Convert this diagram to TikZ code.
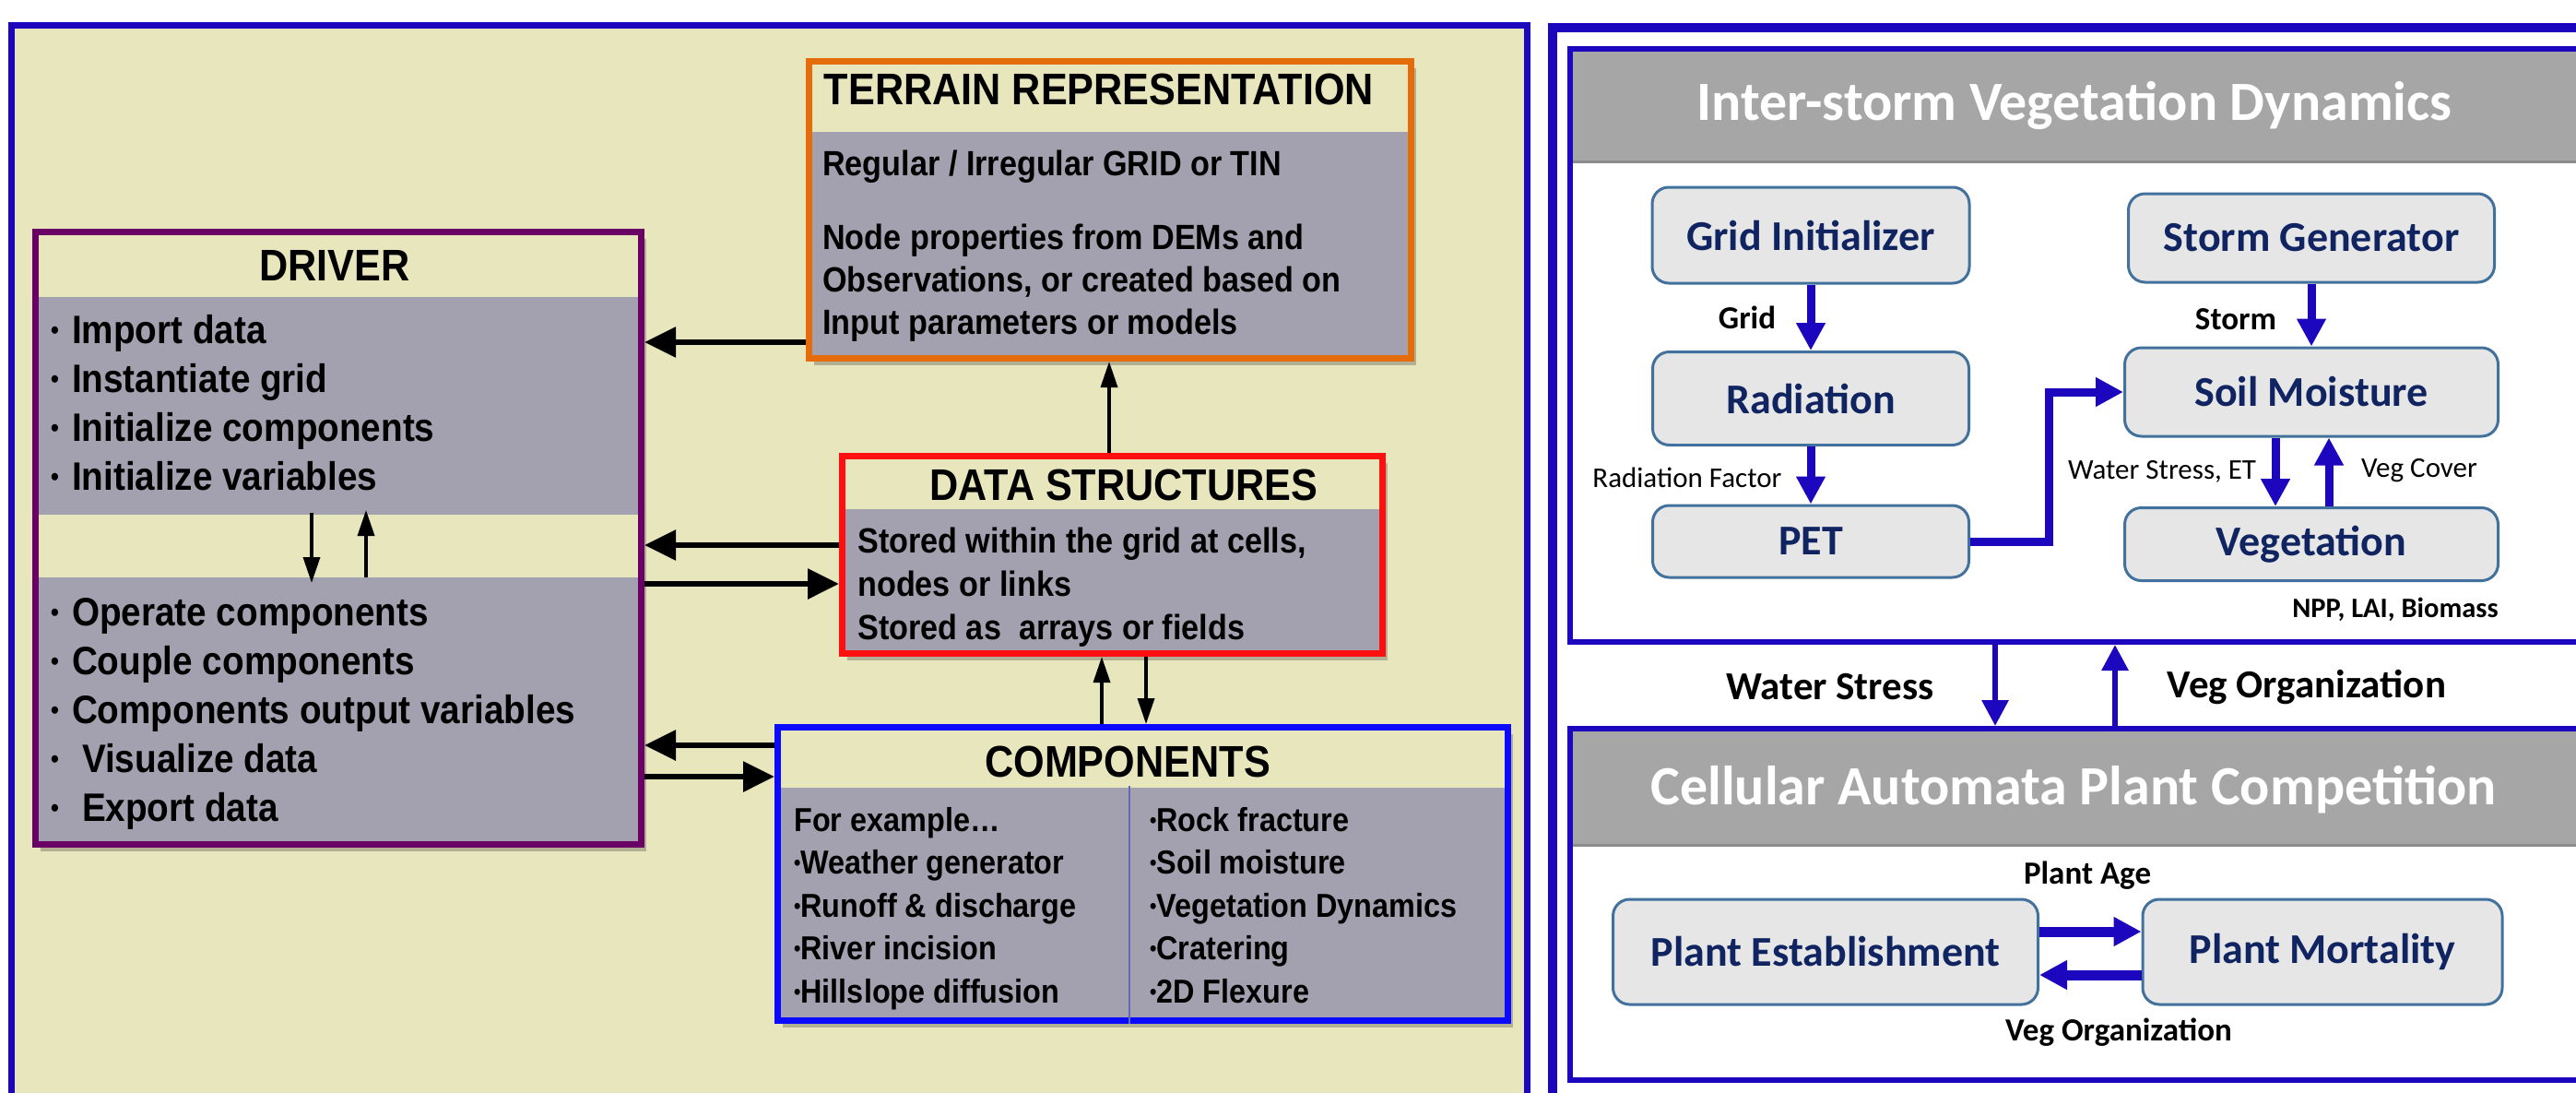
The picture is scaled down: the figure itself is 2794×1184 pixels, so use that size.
\documentclass[tikz,border=0pt]{standalone}
\usepackage{fontspec}
\newfontfamily\arialnarrow{Liberation Sans}[FakeStretch=0.9]
\newfontfamily\calibri{Carlito}
\usetikzlibrary{arrows.meta, shadows, positioning}

\definecolor{paper}{HTML}{E8E6BC}
\definecolor{slab}{HTML}{A3A1AF}
\definecolor{frameblue}{HTML}{1C06BE}
\definecolor{terraincol}{HTML}{E46C0A}
\definecolor{drivercol}{HTML}{6A0066}
\definecolor{datacol}{HTML}{FF1010}
\definecolor{compcol}{HTML}{0A0AFF}
\definecolor{procfill}{HTML}{E6E6E6}
\definecolor{procline}{HTML}{41719C}
\definecolor{proctext}{HTML}{0F2461}
\definecolor{banner}{HTML}{A6A6A6}

\newcommand{\smallbul}{\raisebox{0.1em}{\scalebox{0.65}{•}}}

\tikzset{
  modbox/.style 2 args={draw=#1, line width=7pt, fill=slab, anchor=north west, inner sep=0pt,
    drop shadow={shadow xshift=5pt, shadow yshift=-7pt, opacity=.35, fill=black!70},
    path picture={\fill[paper] (path picture bounding box.north west) rectangle ([yshift=-#2]path picture bounding box.north east);}},
  headtxt/.style={font=\arialnarrow\bfseries\fontsize{48}{56}\selectfont, inner sep=0pt},
  bodytxt/.style={font=\arialnarrow\bfseries\fontsize{38}{46}\selectfont, anchor=base west, inner sep=0pt},
  itemtxt/.style={font=\arialnarrow\bfseries\fontsize{43}{52}\selectfont, anchor=base west, inner sep=0pt},
  listtxt/.style={font=\arialnarrow\bfseries\fontsize{36}{44}\selectfont, anchor=base west, inner sep=0pt},
  fatarrow/.style={-{Triangle[length=34pt,width=32pt]}, line width=6pt},
  slimarrow/.style={-{Triangle[length=28pt,width=18pt]}, line width=3.5pt},
  panel/.style={draw=frameblue, line width=6pt, fill=white, anchor=north west, inner sep=0pt,
    path picture={\fill[banner] (path picture bounding box.north west) rectangle ([yshift=-#1]path picture bounding box.north east);
      \draw[black!45, line width=3pt] ([yshift=-#1]path picture bounding box.north west) -- ([yshift=-#1]path picture bounding box.north east);}},
  bannertxt/.style={font=\calibri\bfseries\fontsize{60}{70}\selectfont, text=white, anchor=base, inner sep=0pt},
  proc/.style={draw=procline, line width=3pt, fill=procfill, rounded corners=18pt, inner sep=0pt,
    font=\calibri\bfseries\fontsize{46}{54}\selectfont, text=proctext},
  flow/.style={draw=frameblue, line width=9pt, -{Triangle[length=30pt,width=30pt]}},
  link/.style={draw=frameblue, line width=6pt, -{Triangle[length=28pt,width=28pt]}},
  tag/.style={font=\calibri\bfseries\fontsize{35}{42}\selectfont, inner sep=0pt},
  bigtag/.style={font=\calibri\bfseries\fontsize{43}{50}\selectfont, inner sep=0pt},
  note/.style={font=\calibri\fontsize{31}{38}\selectfont, inner sep=0pt},
}

\begin{document}
\begin{tikzpicture}[x=1pt, y=-1pt, node distance=150pt, on grid]
  \useasboundingbox (0,0) rectangle (2794,1184);
  \clip (0,0) rectangle (2794,1184);

  % framework panel
  \fill[paper] (9,24) rectangle (1660,1200);
  \draw[frameblue, line width=7pt] (12.5,27.5) rectangle (1656,1230);

  \node[modbox={terraincol}{76pt}, minimum width=653pt, minimum height=322pt] (terrain) at (874,63) {};
  \node[modbox={drivercol}{70pt}, minimum width=657pt, minimum height=664pt,
    path picture={\fill[paper] (path picture bounding box.north west) rectangle ([yshift=-70pt]path picture bounding box.north east);
      \fill[paper] ([yshift=-306pt]path picture bounding box.north west) rectangle ([yshift=-374pt]path picture bounding box.north east);}] (driver) at (35,248) {};
  \node[modbox={datacol}{57pt}, minimum width=586pt, minimum height=214pt] (data) at (910,491) {};
  \node[modbox={compcol}{65pt}, minimum width=792pt, minimum height=318pt] (comp) at (840,785) {};
  \draw[black!45!blue!60, line width=1.5pt] (comp.south -| 1225,0) -- (1225,852);

  \node[headtxt] (terrainhead) at (1192,97) {TERRAIN REPRESENTATION};
  \node[bodytxt] (terraintop) at (892,190) {Regular / Irregular GRID or TIN};
  \foreach \txt [count=\i] in {Node properties from DEMs and, {Observations, or created based on}, Input parameters or models}
    \node[bodytxt] (terrainb\i) at (892,{224+46*\i}) {\txt};

  \node[headtxt] (driverhead) at (363,288) {DRIVER};
  \foreach \txt [count=\i] in {Import data, Instantiate grid, Initialize components, Initialize variables}
    \node[itemtxt] (setup\i) at (55,{319+53*\i}) {\smallbul\hspace{14pt}\txt};
  \foreach \txt [count=\i] in {Operate components, Couple components, Components output variables, {\hspace{11pt}Visualize data}, {\hspace{11pt}Export data}}
    \node[itemtxt] (run\i) at (55,{625+53*\i}) {\smallbul\hspace{14pt}\txt};

  \node[headtxt] (datahead) at (1219,526) {DATA STRUCTURES};
  \foreach \txt [count=\i] in {{Stored within the grid at cells,}, nodes or links, {Stored as\ \ arrays or fields}}
    \node[bodytxt] (datab\i) at (930,{552+47*\i}) {\txt};

  \node[headtxt] (comphead) at (1223,826) {COMPONENTS};
  \foreach \txt [count=\i] in {For example…, \smallbul Weather generator, \smallbul Runoff \& discharge, \smallbul River incision, \smallbul Hillslope diffusion}
    \node[listtxt] (compa\i) at (861,{854.5+46.5*\i}) {\txt};
  \foreach \txt [count=\i] in {Rock fracture, Soil moisture, Vegetation Dynamics, Cratering, 2D Flexure}
    \node[listtxt] (compb\i) at (1247,{854.5+46.5*\i}) {\smallbul\txt};

  \coordinate (stepin) at (338,556);
  \coordinate (stepout) at (338,632);
  \coordinate (backin) at (397,626);
  \coordinate (backout) at (397,553);
  \draw[slimarrow] (stepin) -- (stepout);
  \draw[slimarrow] (backin) -- (backout);

  \draw[fatarrow] (terrain.west |- 0,371) -- (driver.east |- 0,371);
  \draw[slimarrow] (data.north -| 1203,0) -- (terrain.south -| 1203,0);
  \draw[fatarrow] (data.west |- 0,591) -- (driver.east |- 0,591);
  \draw[fatarrow] (driver.east |- 0,633) -- (data.west |- 0,633);
  \draw[fatarrow] (comp.west |- 0,808) -- (driver.east |- 0,808);
  \draw[fatarrow] (driver.east |- 0,842) -- (comp.west |- 0,842);
  \draw[slimarrow] (comp.north -| 1195,0) -- (data.south -| 1195,0);
  \draw[slimarrow] (data.south -| 1243,0) -- (comp.north -| 1243,0);

  % ecohydrology panel
  \draw[frameblue, line width=10pt] (1684,29.5) rectangle (2860,1200);
  \node[panel=122pt, minimum width=1096pt, minimum height=643pt] (isvd) at (1700,50) {};
  \node[panel=126pt, minimum width=1096pt, minimum height=381pt] (capc) at (1700,787) {};
  \node[bannertxt] (isvdtitle) at (2250,130) {Inter-storm Vegetation Dynamics};
  \node[bannertxt] (capctitle) at (2249,872) {Cellular Automata Plant Competition};

  \node[proc, minimum width=344pt, minimum height=104pt] (gridinit) at (1964,255) {Grid Initializer};
  \node[proc, minimum width=343pt, minimum height=101pt, below=177pt of gridinit] (radiation) {Radiation};
  \node[proc, minimum width=343pt, minimum height=78pt, below=155pt of radiation] (pet) {PET};
  \node[proc, minimum width=397pt, minimum height=96pt] (storm) at (2507,258) {Storm Generator};
  \node[proc, minimum width=405pt, minimum height=96pt, below=167pt of storm] (soil) {Soil Moisture};
  \node[proc, minimum width=405pt, minimum height=79pt, below=165pt of soil] (veg) {Vegetation};
  \node[proc, minimum width=461pt, minimum height=114pt] (plantest) at (1980,1032) {Plant Establishment};
  \node[proc, minimum width=390pt, minimum height=114pt, right=539pt of plantest] (plantmort) {Plant Mortality};

  \draw[flow] (gridinit) -- (radiation);
  \draw[flow] (radiation) -- (pet);
  \draw[flow] (storm) -- (soil);
  \draw[flow] (pet.east) -- ++(85,0) |- (soil.west);
  \draw[flow] ([xshift=-39pt]soil.south) -- ([xshift=-39pt]veg.north);
  \draw[flow] ([xshift=19pt]veg.north) -- ([xshift=19pt]soil.south);
  \draw[flow, line width=11pt] (plantest.east |- 0,1010) -- (plantmort.west |- 0,1010);
  \draw[flow, line width=11pt] (plantmort.west |- 0,1057) -- (plantest.east |- 0,1057);
  \draw[link] (isvd.south -| 2164,0) -- (capc.north -| 2164,0);
  \draw[link] (capc.north -| 2294,0) -- (isvd.south -| 2294,0);

  \node[tag] (gridlbl) at (1895,344) {Grid};
  \node[note] (radlbl) at (1830,518) {Radiation Factor};
  \node[tag] (stormlbl) at (2425,346) {Storm};
  \node[note] (stresslbl) at (2345,511) {Water Stress, ET};
  \node[note] (coverlbl) at (2624,510) {Veg Cover};
  \node[tag, font=\calibri\bfseries\fontsize{30.5}{37}\selectfont] (npplbl) at (2598,661) {NPP, LAI, Biomass};
  \node[bigtag] (stressdown) at (1985,745) {Water Stress};
  \node[bigtag] (orgup) at (2502,745) {Veg Organization};
  \node[tag] (agelbl) at (2264,949) {Plant Age};
  \node[tag] (orglbl) at (2298,1119) {Veg Organization};
\end{tikzpicture}
\end{document}
